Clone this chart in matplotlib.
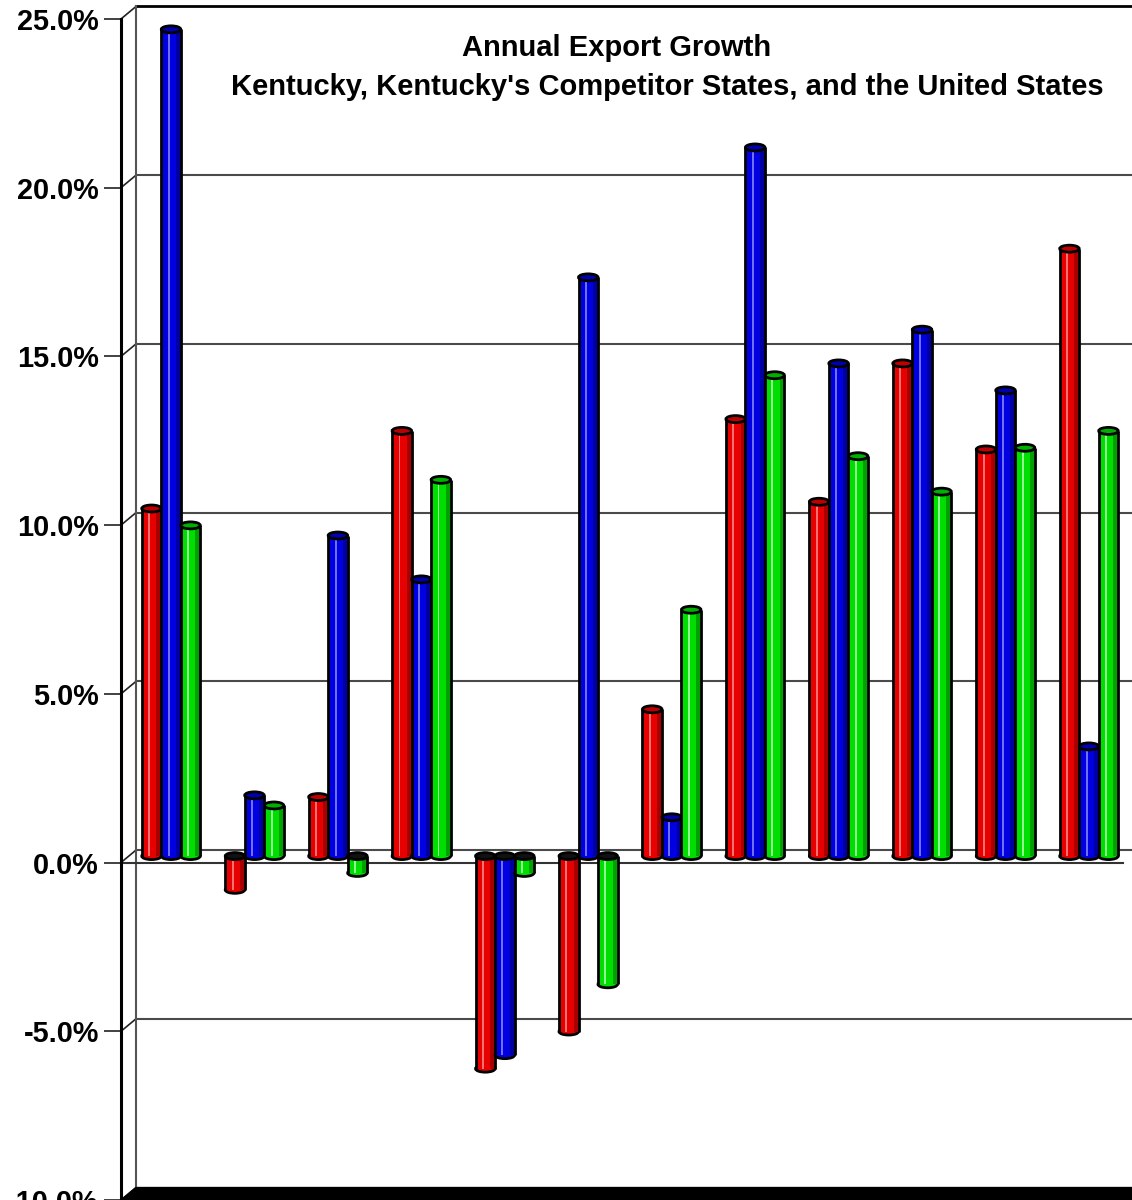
import matplotlib
matplotlib.use("Agg")
import matplotlib.pyplot as plt
from matplotlib.patches import Ellipse, Polygon
import numpy as np

plt.rcParams['font.family'] = ['Liberation Sans', 'DejaVu Sans']

# ---- data ----
periods = list(range(1, 13))          # 12 annual periods (unlabelled in the chart)
kentucky = [10.3, -1.0, 1.75, 12.6, -6.3, -5.2, 4.35, 12.95, 10.5, 14.6, 12.05, 18.0]
competitors = [24.5, 1.8, 9.5, 8.2, -5.9, 17.15, 1.15, 21.0, 14.6, 15.6, 13.8, 3.25]
united_states = [9.8, 1.5, -0.5, 11.15, -0.5, -3.8, 7.3, 14.25, 11.85, 10.8, 12.1, 12.6]
yticks = [-10, -5, 0, 5, 10, 15, 20, 25]
title1 = "Annual Export Growth"
title2 = "Kentucky, Kentucky's Competitor States, and the United States"

W, H = 1132, 1200
fig = plt.figure(figsize=(W / 100, H / 100), dpi=100)

# pixel geometry of the front plane
x_axis_px = 121
px_per_pct = 33.84
zero_px = 865
group0_px = 171
group_step_px = 83.45

ax = fig.add_axes([x_axis_px / W, 0, (W - x_axis_px) / W, 1])
ax.set_ylim((zero_px - H) / px_per_pct, zero_px / px_per_pct)
ax.set_xlim((x_axis_px - group0_px) / group_step_px, (W - group0_px) / group_step_px)
x0, x1 = ax.get_xlim()

# depth offsets (in data units)
ddx = 15 / group_step_px
ddy = 12.5 / px_per_pct
bar_shift = 6.5 / px_per_pct
ell_h = 7 / px_per_pct
bw = 19.5 / group_step_px
off = 19.5 / group_step_px

for s in ['top', 'right', 'bottom']:
    ax.spines[s].set_visible(False)
ax.spines['left'].set_linewidth(2.2)
ax.spines['left'].set_color('black')
ax.spines['left'].set_bounds(-10, 25)
ax.set_xticks([])
ax.set_yticks(yticks)
ax.set_yticklabels([f"{v:.1f}%" for v in yticks], fontsize=20.8, fontweight='bold')
ax.tick_params(axis='y', direction='out', length=12.5, width=1.3, color='#333333', pad=3.5)
ax.patch.set_alpha(0)

# back wall: gridlines, connectors, vertical back edge, top edge
xb = x0 + ddx
for v in yticks:
    ax.plot([x0, xb], [v, v + ddy], color='#222222', lw=1.2, zorder=1, clip_on=False)
    if v > -10:
        ax.plot([xb, x1], [v + ddy, v + ddy], color='#4a4a4a' if v != 25 else 'black',
                lw=1.5 if v != 25 else 2.0, zorder=1)
ax.plot([xb, xb], [-10 + ddy, 25 + ddy], color='#555555', lw=1.5, zorder=1)
# front zero line
ax.plot([x0, (1123 - group0_px) / group_step_px], [0, 0], color='#333333', lw=1.5, zorder=1)
# floor
ax.add_patch(Polygon([(x0, -10), (xb, -10 + ddy), (x1, -10 + ddy), (x1, -10)],
                     closed=True, facecolor='black', edgecolor='black', zorder=2, clip_on=False))

series = [
    (kentucky, -off, '#E60000', '#FF7070', '#A80000', '#C00000'),
    (competitors, 0.0, '#0000E0', '#7070FF', '#0000A0', '#0000B0'),
    (united_states, off, '#00DD00', '#90FF90', '#00A000', '#00B000'),
]

xs = np.arange(len(periods), dtype=float)
z = 3
for gi in range(len(periods)):
    for vals, o, base, light, dark, capc in series:
        v = vals[gi]
        x = xs[gi] + o
        lo, hi = (bar_shift, bar_shift + v) if v >= 0 else (bar_shift + v, bar_shift)
        # bottom ellipse
        ax.add_patch(Ellipse((x, lo), bw, ell_h, facecolor=base, edgecolor='black', lw=2.0, zorder=z))
        # body
        ax.bar(x, hi - lo, width=bw, bottom=lo, color=base, edgecolor='none', zorder=z + 0.1)
        ax.bar(x + bw * 0.36, hi - lo, width=bw * 0.22, bottom=lo, color=dark, edgecolor='none', zorder=z + 0.12)
        ax.bar(x - bw * 0.12, hi - lo, width=bw * 0.10, bottom=lo, color=light, edgecolor='none', zorder=z + 0.13)
        ax.plot([x - bw / 2, x - bw / 2], [lo, hi], color='black', lw=2.0, zorder=z + 0.2, solid_capstyle='butt')
        ax.plot([x + bw / 2, x + bw / 2], [lo, hi], color='black', lw=2.0, zorder=z + 0.2, solid_capstyle='butt')
        # top cap
        capface = capc if v >= 0 else '#111111'
        ax.add_patch(Ellipse((x, hi), bw, ell_h, facecolor=capface, edgecolor='black', lw=2.0, zorder=z + 0.3))
        z += 1

fig.text(617 / W, 1 - 48 / H, title1, ha='center', va='center', fontsize=21, fontweight='bold')
fig.text(667 / W, 1 - 87 / H, title2, ha='center', va='center', fontsize=21, fontweight='bold')

fig.savefig('out.png', dpi=100)
